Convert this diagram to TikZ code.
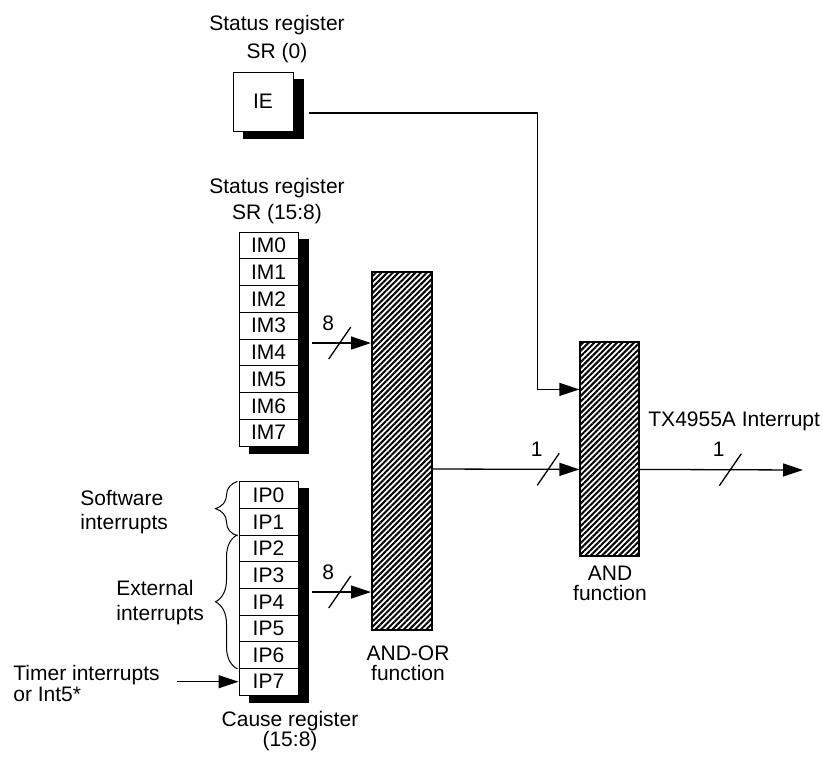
\documentclass[tikz,border=0pt]{standalone}
\usepackage{fontspec}
\setmainfont{Liberation Sans}
\usepackage{tikz}
\usetikzlibrary{arrows.meta, calc, patterns.meta, decorations.pathreplacing, backgrounds}
\tikzset{
  wire/.style        = {line width=0.65pt},
  bus arrow/.style   = {wire, -{Triangle[length=10pt, width=6.5pt]}},
  reg cell/.style    = {draw, line width=0.5pt, fill=white, inner sep=0pt,
                        minimum width=29.5pt, minimum height=13.375pt},
  reg shadow/.style  = {fill=black},
  func box/.style    = {draw, line width=0.6pt, inner sep=0pt,
                        pattern={Lines[angle=45, distance=2pt, line width=1pt]}},
  group brace/.style = {decorate, decoration={brace, amplitude=11pt}, line width=0.5pt},
  title/.style       = {align=center, inner sep=0pt},
  side note/.style   = {anchor=west, align=left, inner sep=0pt},
  pics/bus slash/.style = {code={
      \draw[wire] (-11,16) -- (11,-16);
      \node (-lbl) at (-11.5,-20) {#1};
  }},
}

\begin{document}
\begin{tikzpicture}[x=0.5pt, y=-0.5pt, font=\fontsize{10.5}{12.5}\selectfont]
  \useasboundingbox (0,0) rectangle (823,756);

  % ── registers ──────────────────────────────────────────────────────────────
  \node[reg cell, minimum width=30pt, minimum height=29.5pt] (ie) at (263,101.5) {IE};
  \node[title, font=\fontsize{10.5}{14}\selectfont] (sr0 title) at (277,39)
    {Status register\\SR (0)};

  \foreach \i in {0,...,7}{
    \node[reg cell] (im\i) at (268.5, {232+26.75*(\i+0.5)}) {IM\i};
  }
  \node[title, font=\fontsize{10.5}{13}\selectfont] (sr158 title) at (277,201)
    {Status register\\SR (15:8)};

  \foreach \i in {0,...,7}{
    \node[reg cell] (ip\i) at (268.5, {482+26.625*(\i+0.5)}) {IP\i};
  }
  \node[title, font=\fontsize{10.5}{10}\selectfont] (cause title) at (290,731.5)
    {Cause register\\(15:8)};

  % drop shadows
  \begin{scope}[on background layer]
    \fill[reg shadow] ($(ie.north west)+(10,7)$) rectangle ($(ie.south east)+(10,7)$);
    \fill[reg shadow] ($(im0.north west)+(10,7)$) rectangle ($(im7.south east)+(10,7)$);
    \fill[reg shadow] ($(ip0.north west)+(10,7)$) rectangle ($(ip7.south east)+(10,7)$);
  \end{scope}

  % ── interrupt sources ──────────────────────────────────────────────────────
  \draw[group brace] ([xshift=-0.5pt]ip1.south west) -- ([xshift=-0.5pt]ip0.north west);
  \draw[group brace] ([xshift=-0.5pt]ip6.south west) -- ([xshift=-0.5pt]ip2.north west);
  \node[side note, font=\fontsize{10.5}{12}\selectfont] (sw note) at (80,512)
    {Software\\interrupts};
  \node[side note, font=\fontsize{10.5}{12.5}\selectfont] (ext note) at (116,603)
    {External\\interrupts};
  \node[side note, font=\fontsize{10.5}{10.5}\selectfont] (timer note) at (13,683)
    {Timer interrupts\\or Int5*};
  \draw[bus arrow] ([xshift=-31pt]ip7.west) -- (ip7.west);

  % ── function blocks ────────────────────────────────────────────────────────
  \node[func box, minimum width=30pt, minimum height=179pt] (andor) at (402,451) {};
  \node[title, font=\fontsize{10.5}{10}\selectfont] (andor title) at (408,663.5)
    {AND-OR\\function};

  \node[func box, minimum width=29.5pt, minimum height=107pt] (and) at (609.5,449) {};
  \node[title, font=\fontsize{10.5}{10}\selectfont] (and title) at (610,583.5)
    {AND\\function};

  \coordinate (andor in1) at ([yshift=-36pt]andor.north west);
  \coordinate (andor in2) at ([yshift=-160.5pt]andor.north west);
  \coordinate (andor out) at ([yshift=-99pt]andor.north east);
  \coordinate (and in1)   at ([yshift=-24pt]and.north west);
  \coordinate (and in2)   at ([yshift=-64pt]and.north west);
  \coordinate (and out)   at (and in2 -| and.east);
  \coordinate (irq)       at (803,470);

  % ── buses ──────────────────────────────────────────────────────────────────
  \draw[bus arrow] ([xshift=-29.5pt]andor in1) -- (andor in1) coordinate[pos=.47] (bus im);
  \pic (im slash) at (bus im) {bus slash=8};

  \draw[bus arrow] ([xshift=-29.5pt]andor in2) -- (andor in2) coordinate[pos=.47] (bus ip);
  \pic (ip slash) at (bus ip) {bus slash=8};

  \draw[bus arrow] ([xshift=7.5pt, yshift=-5.75pt]ie.east) -| ([xshift=-21pt]and in1) -- (and in1);

  \draw[bus arrow] (andor out) -- (and in2) coordinate[pos=.787] (bus or);
  \pic (or slash) at (bus or) {bus slash=1};

  \draw[bus arrow] (and out) -- (irq) coordinate[pos=.555] (bus irq);
  \pic (irq slash) at (bus irq) {bus slash=1};
  \node[anchor=west, inner sep=0pt] (irq title) at (648,421) {TX4955A Interrupt};

\end{tikzpicture}
\end{document}
